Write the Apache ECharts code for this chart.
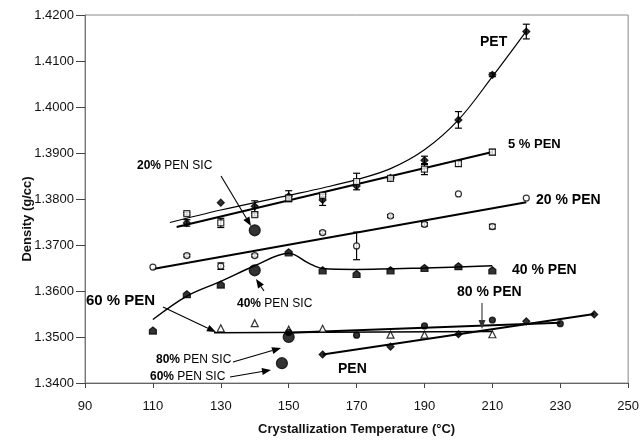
<!DOCTYPE html>
<html><head><meta charset="utf-8">
<script src="https://cdn.jsdelivr.net/npm/echarts@6/dist/echarts.min.js"></script>
<style>html,body{margin:0;padding:0;background:#fff}#c{width:642px;height:441px}</style>
</head><body><div id="c"></div>
<script>
// ---------- data ----------
const xTicks = [90,110,130,150,170,190,210,230,250];
const yTicks = [1.34,1.35,1.36,1.37,1.38,1.39,1.40,1.41,1.42];

const petX   = [120,130,140,150,160,170,180,190,200,210,220];
const petY   = [1.3748,1.3792,1.3784,1.3806,1.3798,1.3828,1.3846,1.3884,1.3972,1.4070,1.4164];
const petErr = [0.0007,0,0.0012,0.0012,0.0012,0,0.0003,0.0009,0.0018,0.0004,0.0016];
const petFitX = [115,130,150,160,170,180,190,200,210,220];
const petFitY = [1.3749,1.3776,1.3808,1.3824,1.3842,1.3866,1.3907,1.3972,1.4066,1.4165];

const pen5X   = [120,130,140,150,160,170,180,190,200,210];
const pen5Y   = [1.3768,1.3748,1.3766,1.3802,1.3808,1.3838,1.3845,1.3865,1.3877,1.3902];
const pen5Err = [0.0003,0.0010,0.0003,0.0006,0.0003,0.0018,0.0003,0.0012,0.0006,0.0006];
const pen5FitX = [117,210];
const pen5FitY = [1.3739,1.3902];

const pen20X   = [110,120,130,140,160,170,180,190,200,210,220];
const pen20Y   = [1.3652,1.3677,1.3654,1.3677,1.3727,1.3698,1.3763,1.3745,1.3811,1.3740,1.3802];
const pen20Err = [0,0.0003,0.0007,0.0003,0.0003,0.0030,0.0003,0.0004,0,0.0005,0];
const pen20FitX = [110,220];
const pen20FitY = [1.3648,1.3793];

const pen40X = [110,120,130,150,160,170,180,190,200,210];
const pen40Y = [1.3514,1.3593,1.3614,1.3684,1.3645,1.3637,1.3645,1.3650,1.3654,1.3645];
const pen40FitX = [110,120,130,140,150,156,160,170,190,210];
const pen40FitY = [1.3538,1.3589,1.3621,1.3655,1.3682,1.3660,1.3649,1.3647,1.3650,1.3655];

const pen60X = [130,140,150,160,180,190,210];
const pen60Y = [1.3519,1.3530,1.3516,1.3518,1.3505,1.3505,1.3506];
const pen60FitX = [128,210];
const pen60FitY = [1.3509,1.3512];

const pen80X = [150,170,190,210,230];
const pen80Y = [1.3510,1.3504,1.3524,1.3537,1.3529];
const pen80FitX = [150,230];
const pen80FitY = [1.3509,1.3531];

const penX = [160,180,200,220,240];
const penY = [1.3462,1.3479,1.3506,1.3534,1.3549];
const penFitX = [160,240];
const penFitY = [1.3462,1.3550];

const sicX = [140,140,150,148];
const sicY = [1.3732,1.3645,1.3500,1.3443];

// ---------- helpers ----------
const pairs = (xs, ys) => xs.map((x, i) => [x, ys[i]]);
const BLACK = '#000';
function fitLine(xs, ys, w, smooth) {
  return {type:'line', data:pairs(xs, ys), symbol:'none', smooth:smooth||false,
    lineStyle:{color:BLACK, width:w}, silent:true, z:2, animation:false};
}
function pts(xs, ys, symbol, size, extra) {
  return Object.assign({type:'scatter', data:pairs(xs, ys), symbol:symbol, symbolSize:size,
    itemStyle:{color:BLACK, borderColor:BLACK, borderWidth:1.2}, z:4, animation:false}, extra||{});
}
function errBars(xs, ys, errs) {
  const data = [];
  xs.forEach((x, i) => { if (errs[i] > 0) data.push([x, ys[i]-errs[i], ys[i]+errs[i]]); });
  return {type:'custom', data:data, encode:{x:0, y:[1,2]}, z:3, animation:false,
    renderItem:(p, api) => {
      const lo = api.coord([api.value(0), api.value(1)]);
      const hi = api.coord([api.value(0), api.value(2)]);
      const w = 3.5, st = {stroke:BLACK, lineWidth:1.2};
      return {type:'group', children:[
        {type:'line', shape:{x1:lo[0], y1:lo[1], x2:hi[0], y2:hi[1]}, style:st},
        {type:'line', shape:{x1:lo[0]-w, y1:lo[1], x2:lo[0]+w, y2:lo[1]}, style:st},
        {type:'line', shape:{x1:hi[0]-w, y1:hi[1], x2:hi[0]+w, y2:hi[1]}, style:st}
      ]};
    }};
}
function arrow(x1, y1, x2, y2, color) {
  const c = color || BLACK;
  const a = Math.atan2(y2-y1, x2-x1), L = 9, W = 3.5;
  const bx = x2 - L*Math.cos(a), by = y2 - L*Math.sin(a);
  return [
    {type:'line', shape:{x1:x1, y1:y1, x2:bx, y2:by}, style:{stroke:c, lineWidth:1.1}, z:10},
    {type:'polygon', shape:{points:[[x2,y2],[bx + W*Math.sin(a), by - W*Math.cos(a)],[bx - W*Math.sin(a), by + W*Math.cos(a)]]},
      style:{fill:c}, z:10}
  ];
}
function label(text, x, y, size) {
  return {type:'text', x:x, y:y, z:10, style:{text:text, fill:BLACK,
    font:'bold ' + size + 'px "Liberation Sans", Arial, sans-serif', verticalAlign:'middle', align:'left'}};
}
function sicLabel(pct, x, y) {
  return {type:'text', x:x, y:y, z:10, style:{text:'{b|' + pct + '}{n| PEN SIC}', verticalAlign:'middle', align:'left',
    rich:{b:{font:'bold 12px "Liberation Sans", Arial, sans-serif', fill:BLACK},
          n:{font:'12px "Liberation Sans", Arial, sans-serif', fill:BLACK}}}};
}
const FONT = '"Liberation Sans", Arial, sans-serif';
const house = 'path://M5,0 L10,4 L10,10 L0,10 L0,4 Z';

const chart = echarts.init(document.getElementById('c'), null, {renderer:'canvas'});
chart.setOption({
  animation:false,
  backgroundColor:'#fff',
  grid:{left:85, right:12, top:15, bottom:53, show:true, borderColor:'#8a8a8a', borderWidth:1},
  xAxis:{type:'value', min:xTicks[0], max:xTicks[xTicks.length-1], interval:20,
    splitLine:{show:false},
    axisLine:{lineStyle:{color:'#666', width:1}},
    axisTick:{inside:false, length:5, lineStyle:{color:'#444'}},
    axisLabel:{fontSize:13, color:'#111', fontFamily:FONT, margin:17},
    name:'Crystallization Temperature (°C)', nameLocation:'middle', nameGap:40,
    nameTextStyle:{fontSize:13, fontWeight:'bold', color:'#111', fontFamily:FONT}},
  yAxis:{type:'value', min:yTicks[0], max:yTicks[yTicks.length-1], interval:0.01,
    splitLine:{show:false},
    axisLine:{show:true, lineStyle:{color:'#777', width:1}},
    axisTick:{show:true, inside:false, length:9, lineStyle:{color:'#444'}},
    axisLabel:{fontSize:13, color:'#111', fontFamily:FONT, margin:11, formatter:v => v.toFixed(4)}},
  graphic:[
    {type:'text', x:27, y:219, rotation:Math.PI/2, z:10,
      style:{text:'Density (g/cc)', font:'bold 13px ' + FONT, fill:'#111', align:'center', verticalAlign:'middle'}},
    label('PET', 480, 42, 14),
    label('5 % PEN', 508, 144, 13),
    label('20 % PEN', 536, 200, 14),
    label('40 % PEN', 512, 270, 14),
    label('80 % PEN', 457, 292, 14),
    label('60 % PEN', 86, 301, 15),
    label('PEN', 338, 369, 14),
    sicLabel('20%', 137, 166),
    sicLabel('40%', 237, 304),
    sicLabel('80%', 156, 360),
    sicLabel('60%', 150, 377),
    ...arrow(221, 176, 251, 226),
    ...arrow(264, 291, 256, 279),
    ...arrow(163, 307, 216, 332),
    ...arrow(233, 362, 281, 348),
    ...arrow(230, 377, 271, 370),
    ...arrow(482, 303, 482, 329, '#333')
  ],
  series:[
    fitLine(petFitX, petFitY, 1.2, 0.35),
    fitLine(pen5FitX, pen5FitY, 2),
    fitLine(pen20FitX, pen20FitY, 2),
    fitLine(pen40FitX, pen40FitY, 1.5, 0.35),
    fitLine(pen60FitX, pen60FitY, 1.5),
    fitLine(pen80FitX, pen80FitY, 2),
    fitLine(penFitX, penFitY, 2),
    errBars(petX, petY, petErr),
    errBars(pen5X, pen5Y, pen5Err),
    errBars(pen20X, pen20Y, pen20Err),
    pts(petX, petY, 'diamond', 7),
    pts(pen5X, pen5Y, 'rect', 6, {itemStyle:{color:'#fff', borderColor:BLACK, borderWidth:1.2}}),
    pts(pen20X, pen20Y, 'circle', 6, {itemStyle:{color:'#fff', borderColor:BLACK, borderWidth:1.2}}),
    pts(pen40X, pen40Y, house, 7),
    pts(pen60X, pen60Y, 'triangle', 7, {itemStyle:{color:'#fff', borderColor:BLACK, borderWidth:1.2}}),
    pts(pen80X, pen80Y, 'circle', 6),
    pts(penX, penY, 'diamond', 7),
    pts(sicX, sicY, 'circle', 11)
  ]
});
</script></body></html>
